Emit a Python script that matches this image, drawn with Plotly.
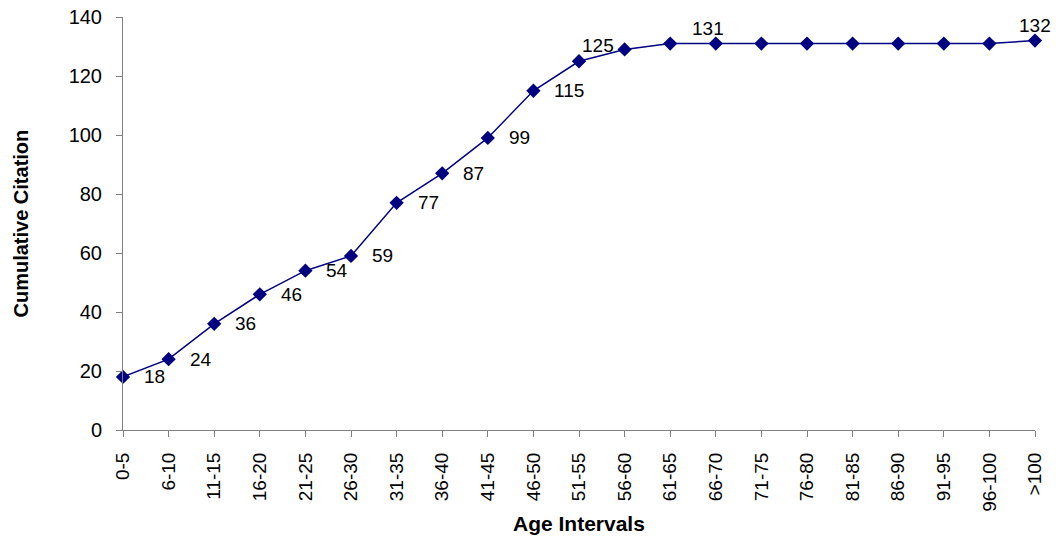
import plotly.graph_objects as go

categories = ["0-5", "6-10", "11-15", "16-20", "21-25", "26-30", "31-35", "36-40",
              "41-45", "46-50", "51-55", "56-60", "61-65", "66-70", "71-75", "76-80",
              "81-85", "86-90", "91-95", "96-100", ">100"]
values = [18, 24, 36, 46, 54, 59, 77, 87, 99, 115, 125, 129, 131, 131, 131, 131,
          131, 131, 131, 131, 132]
labeled = ["0-5", "6-10", "11-15", "16-20", "21-25", "26-30", "31-35", "36-40",
           "41-45", "46-50", "51-55", "66-70", ">100"]
y_ticks = [0, 20, 40, 60, 80, 100, 120, 140]

FONT = "Liberation Sans, Arial, sans-serif"

fig = go.Figure()
fig.add_trace(go.Scatter(
    x=categories, y=values, mode="lines+markers",
    line=dict(color="#000080", width=1.5),
    marker=dict(symbol="diamond", size=11, color="#000080"),
    showlegend=False, hoverinfo="skip", cliponaxis=False,
))

# label placement: (xanchor, xshift, yshift)
placement = {"51-55": ("left", 1, 16), "66-70": ("center", -8, 15), ">100": ("center", 0, 15)}
for c, v in zip(categories, values):
    if c in labeled:
        xa, dx, dy = placement.get(c, ("left", 19, 0))
        fig.add_annotation(x=c, y=v, text=str(v), showarrow=False,
                           xanchor=xa, yanchor="middle",
                           xshift=dx, yshift=dy,
                           font=dict(family=FONT, size=19, color="black"))

fig.add_annotation(text="<b>Age Intervals</b>", xref="paper", yref="paper",
                   x=0.5, y=-(523 - 430) / 413, xanchor="center", yanchor="middle",
                   showarrow=False, font=dict(family=FONT, size=21, color="black"))
fig.add_annotation(text="<b>Cumulative Citation</b>", xref="paper", yref="paper",
                   x=-(123 - 20) / 912, y=0.5, xanchor="center", yanchor="middle",
                   textangle=-90, showarrow=False,
                   font=dict(family=FONT, size=20, color="black"))

fig.update_layout(
    width=1062, height=544,
    margin=dict(l=123, r=27, t=17, b=114),
    plot_bgcolor="white", paper_bgcolor="white",
    font=dict(family=FONT, color="black"),
)
fig.update_xaxes(
    type="category", range=[0, 20], showgrid=False, automargin=False,
    showline=True, linecolor="#808080", linewidth=1,
    ticks="outside", ticklen=6, tickcolor="#808080",
    tickangle=-90, tickfont=dict(size=19), ticklabelstandoff=8,
    ticklabeloverflow="allow",
)
fig.update_yaxes(
    range=[0, 140], tickvals=y_ticks, showgrid=False, zeroline=False, automargin=False,
    showline=True, linecolor="#808080", linewidth=1,
    ticks="outside", ticklen=6, tickcolor="#808080",
    tickfont=dict(size=20), ticklabelstandoff=10,
    ticklabeloverflow="allow",
)

fig.write_html("out.html", config={"displayModeBar": False},
               post_script="document.body.style.margin='0';")
